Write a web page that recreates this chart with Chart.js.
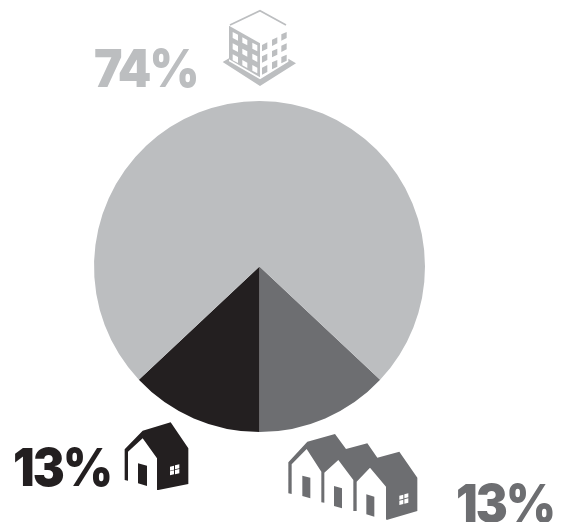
<!DOCTYPE html>
<html>
<head>
<meta charset="utf-8">
<style>html,body{margin:0;padding:0;background:#fff}canvas{display:block}</style>
<script src="https://cdn.jsdelivr.net/npm/chart.js@4"></script>
</head>
<body>
<canvas id="pie" width="562" height="522"></canvas>
<script>
const categories = ['Townhouse', 'Single-family', 'Apartment'];
const shares = [13, 13, 74];
const colors = ['#6d6e71', '#231f20', '#bcbec0'];
const labelSpots = [{x: 456, y: 522}, {x: 13, y: 486}, {x: 94, y: 87}];
const labelSqueeze = 0.92;

// Icons are authored at 3x on a local grid, then placed with an origin.
const icons = [
  { // row of houses
    origin: [280, 425], color: colors[0],
    shapes: [
      'M25 112L82 50L165 27L198 72L262 55L292 98L358 80L412 158L412 258L320 285L318 282L318 185L270 128L230 170L230 258L220 258L220 165L175 105L133 143L133 233L124 232L124 140L80 72L35 118L35 207L25 205Z',
    ],
    cutouts: ['M358 212L370 209L370 221L358 224ZM373 208L385 205L385 217L373 220ZM358 227L370 224L370 237L358 240ZM373 223L385 220L385 233L373 236Z'],
    extra: ['M67 152L91 158L91 220L67 213Z', 'M162 183L186 190L186 250L162 243Z', 'M259 208L283 215L283 275L259 268Z']
  },
  { // single house
    origin: [0, 410], color: colors[1],
    shapes: ['M374 118L428 62L512 37L565 115L565 222L475 240L471 240L471 145L428 85L384 125L384 212L374 210Z'],
    cutouts: ['M510 170L522 167L522 179L510 182ZM525 166L538 163L538 175L525 178ZM510 184L522 181L522 193L510 196ZM525 180L538 177L538 190L525 193Z'],
    extra: ['M414 160L441 167L441 228L414 220Z']
  },
  { // apartment block
    origin: [210, 0], color: colors[2],
    stroke: 'M60 75L150 32L228 75',
    shapes: [
      'M57 77L150 130L150 232L57 178Z',
      'M38 186L57 175L57 184L150 238L235 185L235 176L258 190L150 258Z'
    ],
    cutouts: [
      'M68 96L84 104L84 122L68 114Z', 'M97 112L112 120L112 136L97 128Z', 'M127 128L142 136L142 154L127 146Z',
      'M68 130L84 138L84 156L68 148Z', 'M97 146L112 154L112 170L97 162Z', 'M127 161L142 169L142 186L127 178Z',
      'M68 163L84 171L84 189L68 181Z', 'M97 180L112 188L112 204L97 196Z', 'M127 195L142 203L142 220L127 212Z'
    ],
    extra: [
      'M156 135L172 127L172 146L156 154Z', 'M186 119L202 112L202 130L186 138Z', 'M214 103L230 96L230 114L214 122Z',
      'M156 169L172 161L172 180L156 188Z', 'M186 153L202 146L202 164L186 172Z', 'M214 137L230 130L230 148L214 156Z',
      'M156 203L172 195L172 216L156 224Z', 'M186 187L202 180L202 200L186 208Z', 'M214 171L230 164L230 182L214 190Z'
    ]
  }
];

const decorations = {
  id: 'decorations',
  afterDraw(chart) {
    const ctx = chart.ctx;
    // percentage labels, narrowed a little to suit the heavy face
    shares.forEach((v, i) => {
      ctx.save();
      ctx.font = '900 52px Inter';
      ctx.textBaseline = 'alphabetic';
      ctx.textAlign = 'left';
      ctx.letterSpacing = '-2px';
      ctx.fillStyle = colors[i];
      ctx.translate(labelSpots[i].x, labelSpots[i].y);
      ctx.scale(labelSqueeze, 1);
      ctx.fillText(v + '%', 0, 0);
      ctx.restore();
    });

    icons.forEach(icon => {
      ctx.save();
      ctx.translate(icon.origin[0], icon.origin[1]);
      ctx.scale(1 / 3, 1 / 3);
      if (icon.stroke) {
        ctx.strokeStyle = icon.color;
        ctx.lineWidth = 5;
        ctx.stroke(new Path2D(icon.stroke));
      }
      ctx.fillStyle = icon.color;
      icon.shapes.forEach(d => ctx.fill(new Path2D(d)));
      ctx.fillStyle = '#ffffff';
      icon.cutouts.forEach(d => ctx.fill(new Path2D(d)));
      ctx.fillStyle = icon.color;
      icon.extra.forEach(d => ctx.fill(new Path2D(d)));
      ctx.restore();
    });
  }
};

new Chart(document.getElementById('pie'), {
  type: 'pie',
  data: {
    labels: categories,
    datasets: [{ data: shares, backgroundColor: colors, borderWidth: 0, hoverOffset: 0 }]
  },
  options: {
    responsive: false,
    animation: false,
    rotation: 133.2,
    layout: { padding: { left: 94, right: 137, top: 101, bottom: 90 } },
    plugins: { legend: { display: false }, tooltip: { enabled: false } }
  },
  plugins: [decorations]
});
</script>
</body>
</html>
